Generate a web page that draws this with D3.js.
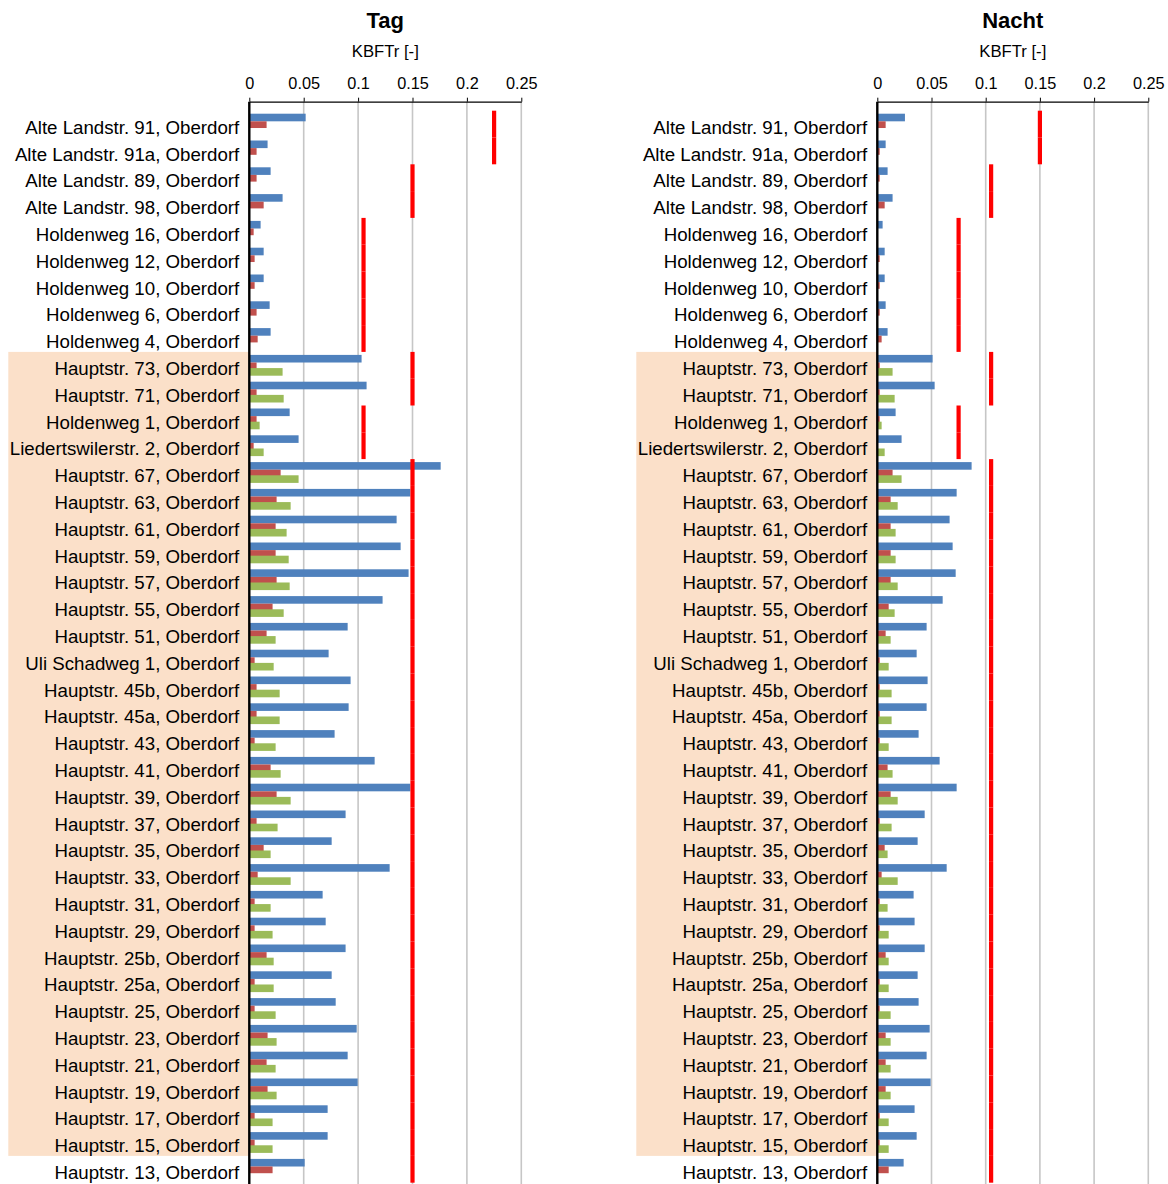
<!DOCTYPE html>
<html><head><meta charset="utf-8">
<script src="https://cdn.jsdelivr.net/npm/d3@7"></script>
<style>body{margin:0;background:#fff;}svg{display:block;font-family:"Liberation Sans",Arial,sans-serif;}</style>
</head><body>
<script>
const categories = [
 "Alte Landstr. 91, Oberdorf","Alte Landstr. 91a, Oberdorf","Alte Landstr. 89, Oberdorf","Alte Landstr. 98, Oberdorf",
 "Holdenweg 16, Oberdorf","Holdenweg 12, Oberdorf","Holdenweg 10, Oberdorf","Holdenweg 6, Oberdorf","Holdenweg 4, Oberdorf",
 "Hauptstr. 73, Oberdorf","Hauptstr. 71, Oberdorf","Holdenweg 1, Oberdorf","Liedertswilerstr. 2, Oberdorf",
 "Hauptstr. 67, Oberdorf","Hauptstr. 63, Oberdorf","Hauptstr. 61, Oberdorf","Hauptstr. 59, Oberdorf","Hauptstr. 57, Oberdorf",
 "Hauptstr. 55, Oberdorf","Hauptstr. 51, Oberdorf","Uli Schadweg 1, Oberdorf","Hauptstr. 45b, Oberdorf","Hauptstr. 45a, Oberdorf",
 "Hauptstr. 43, Oberdorf","Hauptstr. 41, Oberdorf","Hauptstr. 39, Oberdorf","Hauptstr. 37, Oberdorf","Hauptstr. 35, Oberdorf",
 "Hauptstr. 33, Oberdorf","Hauptstr. 31, Oberdorf","Hauptstr. 29, Oberdorf","Hauptstr. 25b, Oberdorf","Hauptstr. 25a, Oberdorf",
 "Hauptstr. 25, Oberdorf","Hauptstr. 23, Oberdorf","Hauptstr. 21, Oberdorf","Hauptstr. 19, Oberdorf","Hauptstr. 17, Oberdorf",
 "Hauptstr. 15, Oberdorf","Hauptstr. 13, Oberdorf"];
// highlighted range (first and last highlighted category)
const highlightFrom = "Hauptstr. 73, Oberdorf";
const highlightTo = "Hauptstr. 15, Oberdorf";

const tagBlue = [0.0518,0.0168,0.0196,0.0306,0.0104,0.0132,0.0132,0.0187,0.0196,
 0.1032,0.1078,0.0371,0.0453,0.1759,0.1480,0.1354,0.1391,0.1464,0.1225,0.0904,0.0729,0.0931,0.0913,0.0784,0.1152,0.1480,
 0.0885,0.0757,0.1290,0.0674,0.0702,0.0885,0.0757,0.0794,0.0987,0.0904,0.0996,0.0720,0.0720,0.0509];
const tagRed = [0.0159,0.0067,0.0067,0.0132,0.0040,0.0049,0.0049,0.0067,0.0077,
 0.0067,0.0067,0.0067,0.0040,0.0288,0.0251,0.0242,0.0242,0.0251,0.0214,0.0159,0.0049,0.0067,0.0067,0.0049,0.0196,0.0251,
 0.0067,0.0132,0.0077,0.0049,0.0049,0.0159,0.0049,0.0049,0.0168,0.0159,0.0168,0.0049,0.0049,0.0214];
const tagGreen = [null,null,null,null,null,null,null,null,null,
 0.0306,0.0316,0.0095,0.0132,0.0453,0.0380,0.0343,0.0362,0.0371,0.0316,0.0242,0.0224,0.0279,0.0279,0.0242,0.0288,0.0380,
 0.0260,0.0196,0.0380,0.0196,0.0214,0.0224,0.0224,0.0242,0.0251,0.0242,0.0251,0.0214,0.0214,null];
const tagLimit = [0.225,0.225,0.15,0.15,0.105,0.105,0.105,0.105,0.105,0.15,0.15,0.105,0.105,
 0.15,0.15,0.15,0.15,0.15,0.15,0.15,0.15,0.15,0.15,0.15,0.15,0.15,0.15,0.15,0.15,0.15,0.15,0.15,0.15,0.15,0.15,0.15,0.15,0.15,0.15,0.15];

const nachtBlue = [0.0255,0.0077,0.0095,0.0141,0.0049,0.0068,0.0068,0.0077,0.0095,
 0.0510,0.0529,0.0169,0.0224,0.0870,0.0732,0.0667,0.0695,0.0723,0.0603,0.0455,0.0363,0.0464,0.0455,0.0381,0.0575,0.0732,
 0.0437,0.0372,0.0640,0.0335,0.0344,0.0437,0.0372,0.0381,0.0483,0.0455,0.0492,0.0344,0.0363,0.0243];
const nachtRed = [0.0077,0.0022,0.0022,0.0068,0.0005,0.0022,0.0022,0.0022,0.0040,
 0.0022,0.0022,0.0022,0.0005,0.0141,0.0123,0.0123,0.0123,0.0123,0.0105,0.0077,0.0022,0.0022,0.0022,0.0022,0.0095,0.0123,
 0.0022,0.0068,0.0040,0.0022,0.0022,0.0077,0.0022,0.0022,0.0077,0.0077,0.0077,0.0022,0.0022,0.0105];
const nachtGreen = [null,null,null,null,null,null,null,null,null,
 0.0141,0.0160,0.0040,0.0068,0.0224,0.0188,0.0169,0.0169,0.0188,0.0160,0.0123,0.0105,0.0132,0.0132,0.0105,0.0141,0.0188,
 0.0132,0.0095,0.0188,0.0095,0.0105,0.0105,0.0105,0.0123,0.0123,0.0123,0.0123,0.0105,0.0105,null];
const nachtLimit = [0.15,0.15,0.105,0.105,0.075,0.075,0.075,0.075,0.075,0.105,0.105,0.075,0.075,
 0.105,0.105,0.105,0.105,0.105,0.105,0.105,0.105,0.105,0.105,0.105,0.105,0.105,0.105,0.105,0.105,0.105,0.105,0.105,0.105,0.105,0.105,0.105,0.105,0.105,0.105,0.105];

const tickValues = [0,0.05,0.1,0.15,0.2,0.25];
const tickLabels = ["0","0.05","0.1","0.15","0.2","0.25"];
const titles = ["Tag","Nacht"];
const axisTitle = "KBFTr [-]";

const W = 1168, H = 1184;
const svg = d3.select("body").append("svg").attr("width", W).attr("height", H);

const y = d3.scaleBand().domain(categories).range([110.7, 110.7 + 40*26.8]).padding(0);
const bw = y.bandwidth();

const panels = [
  {title: titles[0], blue: tagBlue, red: tagRed, green: tagGreen, limit: tagLimit, x0: 249.3, x1: 521.3},
  {title: titles[1], blue: nachtBlue, red: nachtRed, green: nachtGreen, limit: nachtLimit, x0: 877.3, x1: 1148.3}
];

panels.forEach(p => {
  const x = d3.scaleLinear().domain([0, 0.25]).range([p.x0, p.x1]);
  const g = svg.append("g");
  const axisTop = 101.7;

  // highlight background
  const hy0 = y(highlightFrom), hy1 = y(highlightTo) + bw;
  g.append("rect").attr("x", p.x0 - 241).attr("y", hy0).attr("width", 241).attr("height", hy1 - hy0)
    .attr("fill", "#FBE0C9");

  // gridlines
  g.selectAll(".grid").data(tickValues.slice(1)).enter().append("line")
    .attr("x1", d => x(d)).attr("x2", d => x(d)).attr("y1", axisTop).attr("y2", H)
    .attr("stroke", "#c6c6c6").attr("stroke-width", 1.6);

  // top axis
  const ax = d3.axisTop(x).tickValues(tickValues).tickFormat((d,i) => tickLabels[i]).tickSize(4).tickSizeOuter(0);
  const axg = g.append("g").attr("transform", `translate(0,${axisTop})`).call(ax);
  axg.select(".domain").attr("stroke", "#000").attr("stroke-width", 1.2);
  axg.selectAll(".tick line").attr("stroke", "#000");
  axg.selectAll(".tick text").attr("font-size", 16.3).attr("fill", "#000").attr("y", -12.4).attr("dy", 0)
    .attr("font-family", "Liberation Sans, Arial, sans-serif");

  // bars
  const rows = categories.map((c, i) => ({c, b: p.blue[i], r: p.red[i], gr: p.green[i], lim: p.limit[i]}));
  g.selectAll(".blue").data(rows).enter().append("rect")
    .attr("x", x(0)).attr("y", d => y(d.c) + bw*0.112).attr("width", d => x(d.b) - x(0)).attr("height", bw*0.284)
    .attr("fill", "#4F81BD");
  g.selectAll(".red").data(rows).enter().append("rect")
    .attr("x", x(0)).attr("y", d => y(d.c) + bw*0.396).attr("width", d => x(d.r) - x(0)).attr("height", bw*0.25)
    .attr("fill", "#C0504D");
  g.selectAll(".green").data(rows.filter(d => d.gr != null)).enter().append("rect")
    .attr("x", x(0)).attr("y", d => y(d.c) + bw*0.604).attr("width", d => x(d.gr) - x(0)).attr("height", bw*0.284)
    .attr("fill", "#9BBB59");

  // limit segments
  g.selectAll(".lim").data(rows).enter().append("line")
    .attr("x1", d => x(d.lim)).attr("x2", d => x(d.lim))
    .attr("y1", d => y(d.c)).attr("y2", d => y(d.c) + bw)
    .attr("stroke", "#FF0000").attr("stroke-width", 4.2);

  // vertical category axis
  g.append("line").attr("x1", x(0)).attr("x2", x(0)).attr("y1", axisTop).attr("y2", H)
    .attr("stroke", "#000").attr("stroke-width", 2.4);

  // category labels
  g.selectAll(".lab").data(categories).enter().append("text")
    .attr("x", x(0) - 10).attr("y", d => y(d) + bw/2 + 9.6)
    .attr("text-anchor", "end").attr("font-size", 18.7).attr("fill", "#000").text(d => d);

  // titles
  const cx = (p.x0 + p.x1) / 2;
  g.append("text").attr("x", cx).attr("y", 28).attr("text-anchor", "middle")
    .attr("font-size", 22).attr("font-weight", "bold").text(p.title);
  g.append("text").attr("x", cx).attr("y", 57).attr("text-anchor", "middle")
    .attr("font-size", 16.7).text(axisTitle);
});
</script>
</body></html>
